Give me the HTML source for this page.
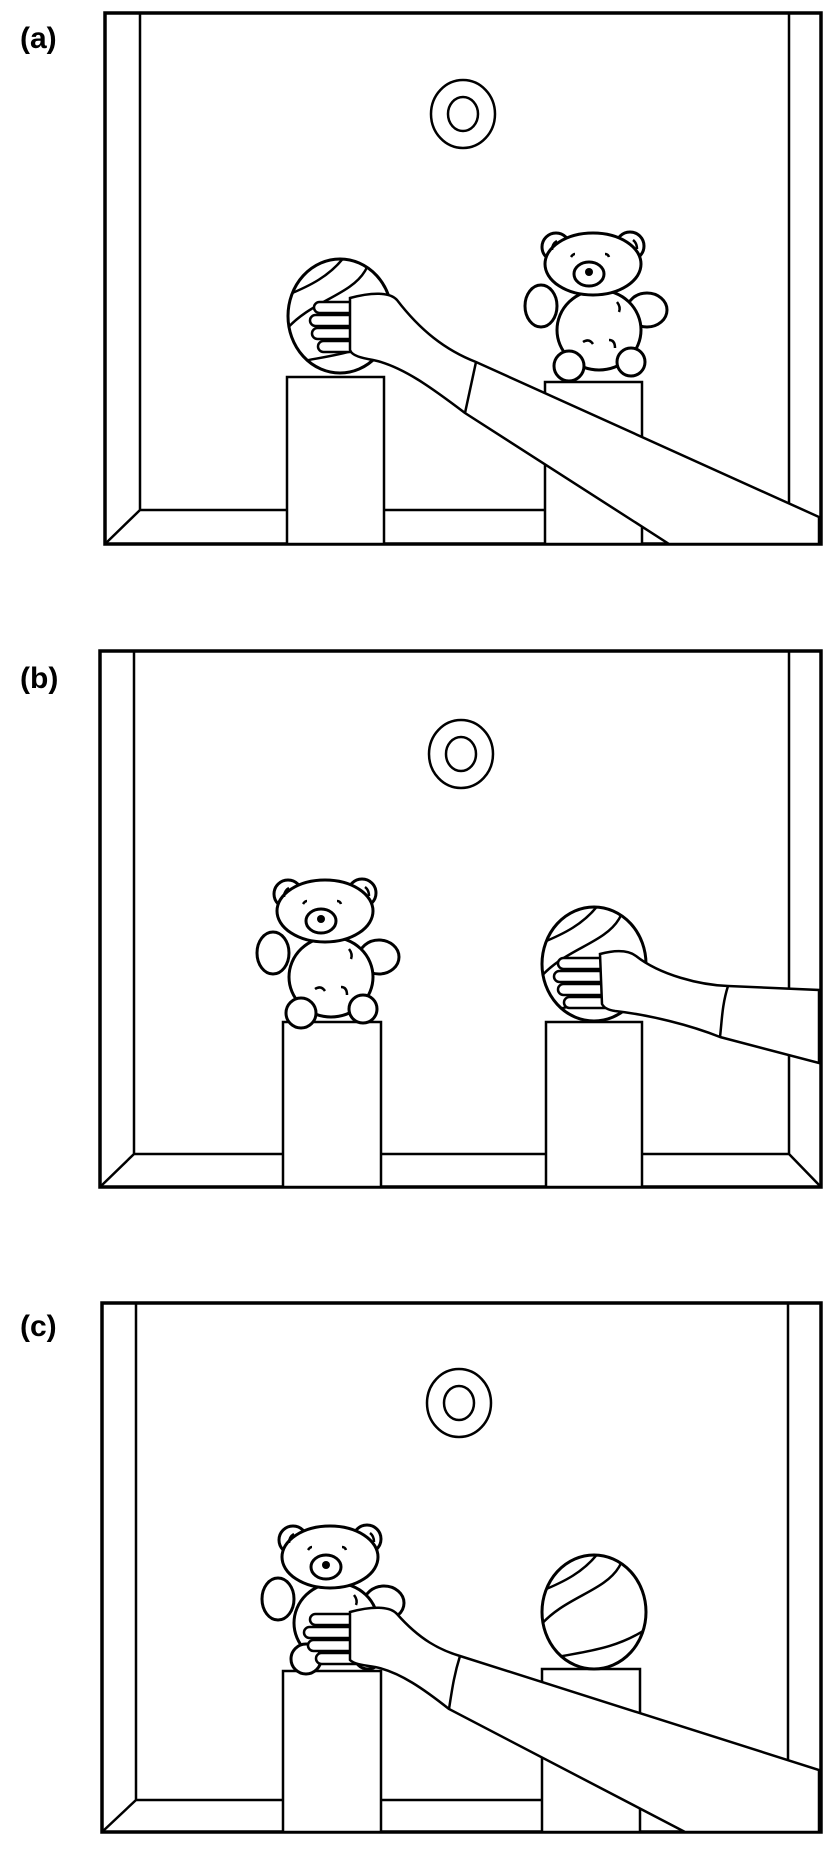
<!DOCTYPE html>
<html><head><meta charset="utf-8"><style>
html,body{margin:0;padding:0;background:#fff;}
svg{display:block;}
text{font-family:"Liberation Sans",sans-serif;font-weight:bold;}
</style></head><body>
<svg width="835" height="1855" viewBox="0 0 835 1855" xmlns="http://www.w3.org/2000/svg">
<defs>
<g id="bear">
 <circle cx="31" cy="17" r="14" fill="#fff" stroke="#000" stroke-width="3"/>
 <circle cx="105" cy="16" r="14" fill="#fff" stroke="#000" stroke-width="3"/>
 <ellipse cx="16" cy="76" rx="16" ry="21" fill="#fff" stroke="#000" stroke-width="3"/>
 <ellipse cx="122" cy="80" rx="20" ry="17" fill="#fff" stroke="#000" stroke-width="3"/>
 <ellipse cx="74" cy="100" rx="42" ry="40" fill="#fff" stroke="#000" stroke-width="3"/>
 <ellipse cx="68" cy="34" rx="48" ry="31" fill="#fff" stroke="#000" stroke-width="3"/>
 <path d="M27 20 q0-6 5-9 M108 10 q4 3 4 9" fill="none" stroke="#000" stroke-width="2.5"/>
 <ellipse cx="64" cy="44" rx="15" ry="12" fill="none" stroke="#000" stroke-width="3"/>
 <circle cx="64" cy="42" r="4" fill="#000"/>
 <path d="M46 27 q2-3 4-3 M80 24 q3 0 4 3" fill="none" stroke="#000" stroke-width="2.5"/>
 <path d="M92 72 q4 5 2 10 M58 112 q6-4 10 2 M84 110 q6 0 6 8" fill="none" stroke="#000" stroke-width="2.5"/>
 <circle cx="44" cy="136" r="15" fill="#fff" stroke="#000" stroke-width="3"/>
 <circle cx="106" cy="132" r="14" fill="#fff" stroke="#000" stroke-width="3"/>
</g>
<g id="ring">
 <ellipse cx="0" cy="0" rx="32" ry="34" fill="none" stroke="#000" stroke-width="2.5"/>
 <ellipse cx="0" cy="0" rx="15" ry="17" fill="none" stroke="#000" stroke-width="2.5"/>
</g>
<clipPath id="ballclip"><ellipse cx="0" cy="0" rx="52" ry="57"/></clipPath>
<g id="ball">
 <ellipse cx="0" cy="0" rx="52" ry="57" fill="#fff" stroke="#000" stroke-width="3"/>
 <g clip-path="url(#ballclip)" fill="none" stroke="#000" stroke-width="2.5">
  <path d="M-55 -20 C-30 -30 -10 -40 5 -60"/>
  <path d="M-55 15 C-30 -15 10 -20 25 -45 C30 -55 35 -55 40 -60"/>
  <path d="M-50 48 C-20 40 20 40 55 15"/>
 </g>
</g>
</defs>

<!-- Panel A -->
<g>
 <text x="20" y="48" font-size="30">(a)</text>
 <g fill="none" stroke="#000">
  <rect x="105" y="13" width="716" height="531" stroke-width="3.5"/>
  <path d="M140 13 V510 H789 V13 M105 544 L140 510 M821 544 L789 510" stroke-width="2.5"/>
 </g>
 <use href="#ring" x="463" y="114"/>
 <rect x="287" y="377" width="97" height="167" fill="#fff" stroke="#000" stroke-width="2.5"/>
 <rect x="545" y="382" width="97" height="162" fill="#fff" stroke="#000" stroke-width="2.5"/>
 <use href="#bear" x="525" y="230"/>
 <use href="#ball" x="340" y="316"/>
 <g stroke="#000" stroke-width="2.5" fill="#fff">
  <rect x="314" y="302" width="58" height="11" rx="5.5"/>
  <rect x="310" y="315" width="62" height="11" rx="5.5"/>
  <rect x="312" y="328" width="60" height="11" rx="5.5"/>
  <rect x="318" y="341" width="54" height="11" rx="5.5"/>
  <path d="M350 298 C372 292 390 292 397 300 C420 330 445 350 476 362 L819 517 L819 544 L669 544 L465 413 C432 388 402 366 373 360 C362 358 352 356 350 350 Z"/>
  <path d="M476 362 L465 413" fill="none"/>
 </g>
</g>

<!-- Panel B -->
<g>
 <text x="20" y="688" font-size="30">(b)</text>
 <g fill="none" stroke="#000">
  <rect x="100" y="651" width="721" height="536" stroke-width="3.5"/>
  <path d="M134 651 V1154 H789 V651 M100 1187 L134 1154 M821 1187 L789 1154" stroke-width="2.5"/>
 </g>
 <use href="#ring" x="461" y="754"/>
 <rect x="283" y="1022" width="98" height="165" fill="#fff" stroke="#000" stroke-width="2.5"/>
 <rect x="546" y="1022" width="96" height="165" fill="#fff" stroke="#000" stroke-width="2.5"/>
 <use href="#bear" x="257" y="877"/>
 <use href="#ball" x="594" y="964"/>
 <g stroke="#000" stroke-width="2.5" fill="#fff">
  <rect x="558" y="958" width="56" height="11" rx="5.5"/>
  <rect x="554" y="971" width="60" height="11" rx="5.5"/>
  <rect x="558" y="984" width="56" height="11" rx="5.5"/>
  <rect x="564" y="997" width="50" height="11" rx="5.5"/>
  <path d="M600 954 C615 950 628 950 636 956 C660 975 700 985 728 986 L819 990 L819 1063 L720 1037 C690 1025 650 1015 615 1011 C608 1010 604 1008 602 1004 Z"/>
  <path d="M728 986 C722 1005 722 1020 720 1037" fill="none"/>
 </g>
</g>

<!-- Panel C -->
<g>
 <text x="20" y="1336" font-size="30">(c)</text>
 <g fill="none" stroke="#000">
  <rect x="102" y="1303" width="719" height="529" stroke-width="3.5"/>
  <path d="M136 1303 V1800 H788 V1303 M102 1832 L136 1800" stroke-width="2.5"/>
 </g>
 <use href="#ring" x="459" y="1403"/>
 <rect x="283" y="1671" width="98" height="161" fill="#fff" stroke="#000" stroke-width="2.5"/>
 <rect x="542" y="1669" width="98" height="163" fill="#fff" stroke="#000" stroke-width="2.5"/>
 <use href="#bear" x="262" y="1523"/>
 <use href="#ball" x="594" y="1612"/>
 <g stroke="#000" stroke-width="2.5" fill="#fff">
  <rect x="310" y="1614" width="56" height="11" rx="5.5"/>
  <rect x="304" y="1627" width="62" height="11" rx="5.5"/>
  <rect x="308" y="1640" width="58" height="11" rx="5.5"/>
  <rect x="316" y="1653" width="50" height="11" rx="5.5"/>
  <path d="M350 1612 C372 1606 390 1606 397 1614 C420 1640 440 1650 460 1656 L819 1770 L819 1832 L685 1832 L449 1709 C425 1690 400 1672 375 1667 C362 1665 354 1664 350 1660 Z"/>
  <path d="M460 1656 C454 1675 452 1690 449 1709" fill="none"/>
 </g>
</g>
</svg>
</body></html>
